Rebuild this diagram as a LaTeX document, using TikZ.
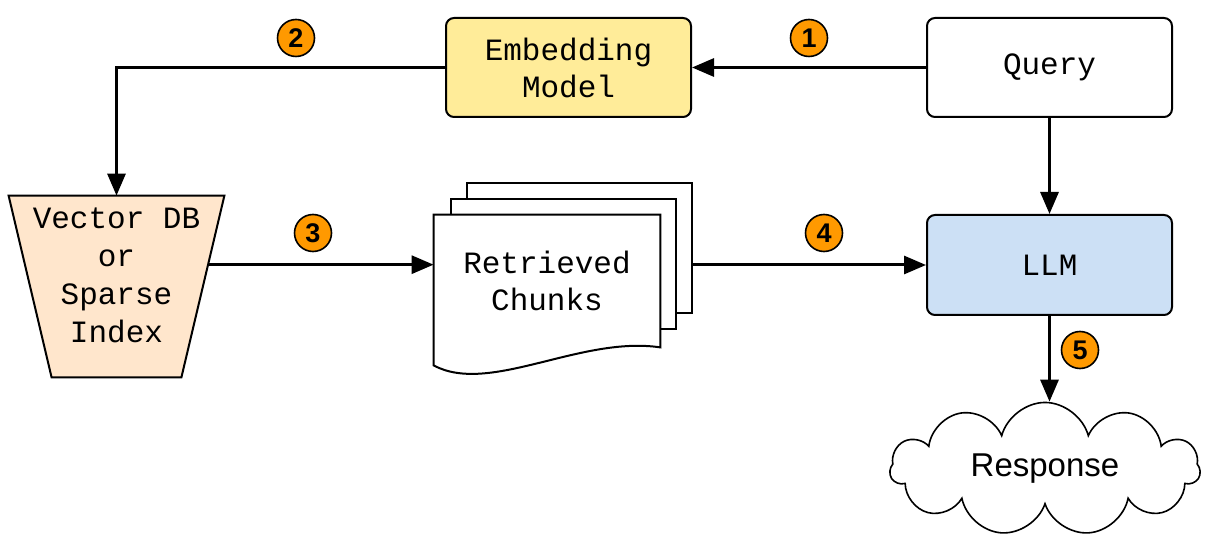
\documentclass[tikz,border=0pt]{standalone}
\usepackage{fontspec}
\newfontfamily\boxfont{Liberation Mono}
\newfontfamily\labelfont{Liberation Sans}
\usetikzlibrary{arrows.meta,shapes.symbols,calc}

\definecolor{embyellow}{HTML}{FFEC99}
\definecolor{llmblue}{HTML}{CCE0F5}
\definecolor{dbpeach}{HTML}{FFE6CC}
\definecolor{badgeorange}{HTML}{FF9900}

\begin{document}
\begin{tikzpicture}[
    x=0.5pt, y=-0.5pt,
    box/.style={draw, line width=1pt, rounded corners=4pt,
        minimum width=122.5pt, minimum height=49.5pt, align=center,
        font=\boxfont\fontsize{15.5}{18.5}\selectfont},
    page/.style={draw, line width=1pt, fill=white,
        minimum width=112.5pt, minimum height=65pt},
    flow/.style={line width=1.5pt, -{Triangle[length=11pt,width=9pt]}},
    badge/.style={circle, draw, line width=0.8pt, fill=badgeorange,
        minimum size=18.5pt, inner sep=0pt,
        font=\labelfont\bfseries\fontsize{13.5}{13.5}\selectfont}
]
\useasboundingbox (0,0) rectangle (1209,555);

% boxes
\node (emb)   [box, fill=embyellow] at (568.5,67.5)  {Embedding\\Model};
\node (query) [box, fill=white]     at (1049.5,67.5) {Query};
\node (llm)   [box, fill=llmblue, minimum height=50pt] at (1049.5,265) {LLM};

% store -- trapezium drawn on an empty node
\node (vdb) [minimum width=107.5pt, minimum height=90.5pt, inner sep=0pt] at (116.5,286.5) {};
\draw[line width=1pt, fill=dbpeach]
    (vdb.north west) -- (vdb.north east)
    -- coordinate[pos=0.38] (vdbout) ($(vdb.south east)+(-43,0)$)
    -- ($(vdb.south west)+(43,0)$) -- cycle;
\node (vdbtext) [align=center, font=\boxfont\fontsize{15.5}{19}\selectfont]
    at ($(vdb.center)+(0,-11)$) {Vector DB\\or\\Sparse\\Index};

% stacked documents
\node (page3)  [page] at (579.5,248) {};
\node (page2)  [page] at (563.5,264) {};
\node (chunks) [minimum width=113pt, minimum height=66pt, inner sep=0pt] at (547,281) {};
\draw[line width=1pt, fill=white]
    (chunks.north west) -- (chunks.north east) -- (chunks.south east)
    .. controls +(-80,-12) and +(56,30) .. ($(chunks.south west)+(0,18)$) -- cycle;
\node (chunkstext) [align=center, font=\boxfont\fontsize{15.5}{18.5}\selectfont]
    at (chunks.center) {Retrieved\\Chunks};

% answer
\node (resp) [cloud, draw, line width=0.8pt, fill=white, cloud puffs=11, aspect=2.3,
    minimum width=155pt, minimum height=66pt, inner sep=0pt,
    font=\labelfont\fontsize{16.5}{16.5}\selectfont] at (1045,469) {Response};

% connectors
\draw[flow] (query.west) -- (emb.east);
\draw[flow] (emb.west) -| (vdb.north);
\draw[flow] (vdbout) -- (chunks.west |- vdbout);
\draw[flow] (page3.east |- llm.west) -- (llm.west);
\draw[flow] (query.south) -- (llm.north);
\draw[flow] (llm.south) -- (llm.south |- resp.north);

% step numbers
\node (s1) [badge] at (809,38)   {1};
\node (s2) [badge] at (296,38)   {2};
\node (s3) [badge] at (313,233)  {3};
\node (s4) [badge] at (824,233)  {4};
\node (s5) [badge] at (1080,350) {5};
\end{tikzpicture}
\end{document}
